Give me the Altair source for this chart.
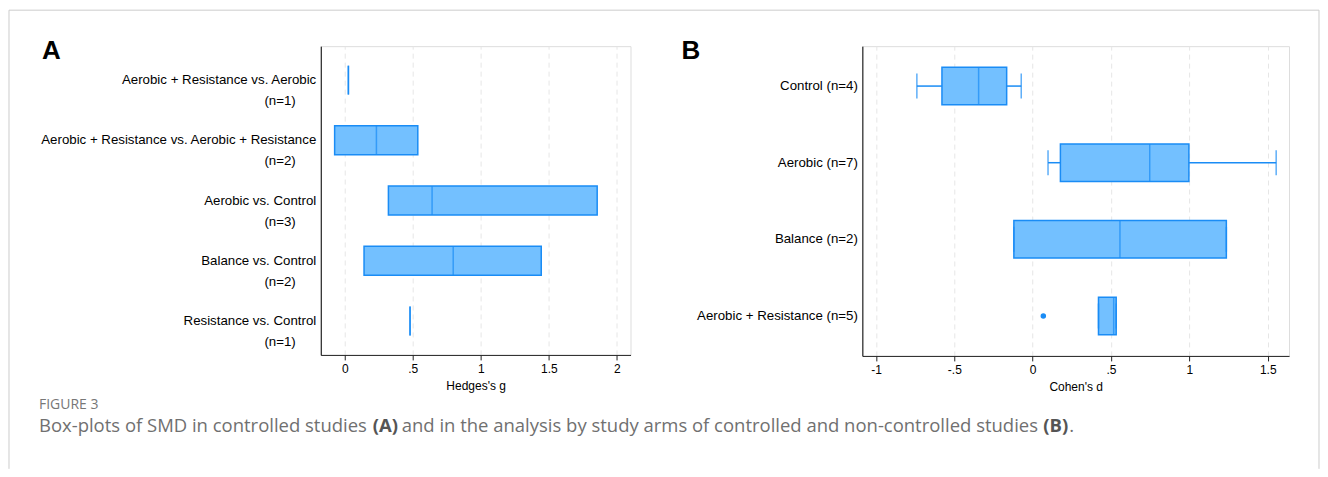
import altair as alt
import pandas as pd

# ---------------- Panel A: controlled studies (Hedges's g) ----------------
a_groups = [
    "Aerobic + Resistance vs. Aerobic",
    "Aerobic + Resistance vs. Aerobic + Resistance",
    "Aerobic vs. Control",
    "Balance vs. Control",
    "Resistance vs. Control",
]
a_n = [1, 2, 3, 2, 1]
a_q1 = [0.027, -0.074, 0.321, 0.142, 0.480]
a_med = [0.027, 0.233, 0.642, 0.797, 0.480]
a_q3 = [0.027, 0.537, 1.855, 1.444, 0.480]
a_ticks = [0, 0.5, 1, 1.5, 2]

# ---------------- Panel B: study arms (Cohen's d) ----------------
b_groups = ["Control", "Aerobic", "Balance", "Aerobic + Resistance"]
b_n = [4, 7, 2, 5]
b_wlo = [-0.739, 0.098, -0.120, 0.420]
b_q1 = [-0.579, 0.177, -0.120, 0.420]
b_med = [-0.345, 0.747, 0.557, 0.517]
b_q3 = [-0.166, 0.997, 1.236, 0.533]
b_whi = [-0.073, 1.554, 1.236, 0.533]
b_out_group = ["Aerobic + Resistance"]
b_out_val = [0.068]
b_ticks = [-1, -0.5, 0, 0.5, 1, 1.5]

FILL = "#73c0ff"
STROKE = "#1a8cf5"
FONT = "Liberation Sans"
CAP_FONT = "Open Sans"
LBL = 13.3

a_ntext = [f"(n={n})" for n in a_n]
b_labels = [f"{g} (n={n})" for g, n in zip(b_groups, b_n)]

dfA = pd.DataFrame({"grp": a_groups, "ntext": a_ntext, "q1": a_q1, "med": a_med, "q3": a_q3})
dfB = pd.DataFrame({"grp": b_labels, "wlo": b_wlo, "q1": b_q1, "med": b_med,
                    "q3": b_q3, "whi": b_whi})
out_labels = [b_labels[b_groups.index(g)] for g in b_out_group]
dfBo = pd.DataFrame({"grp": out_labels, "v": b_out_val})
one = pd.DataFrame({"k": [0]})

NUM_EXPR = ("(datum.value < 0 ? '-' : '') + (abs(datum.value) > 0 && abs(datum.value) < 1 ? "
            "substring(toString(abs(datum.value)), 1) : toString(abs(datum.value)))")


def xaxis(values, title):
    return alt.Axis(values=values, title=title, labelExpr=NUM_EXPR, grid=True,
                    gridDash=[5, 4], gridColor="#e6e6e6", gridWidth=1,
                    tickSize=5, tickColor="#222", labelPadding=4,
                    domainColor="#222", labelFontSize=12, labelColor="#000",
                    titleFontSize=12, titleFontWeight="normal", titleColor="#000",
                    titlePadding=6, labelFont=FONT, titleFont=FONT)


# ---------------- Panel A chart ----------------
xA = alt.X("q1:Q", scale=alt.Scale(domain=[-0.176, 2.10], nice=False, zero=False),
           axis=xaxis(a_ticks, "Hedges's g"))
yA = alt.Y("grp:N", sort=a_groups,
           scale=alt.Scale(paddingInner=0.519, paddingOuter=0.324),
           axis=alt.Axis(title=None, ticks=False, grid=False, domainColor="#000",
                         labelFontSize=LBL, labelColor="#000",
                         labelFont=FONT, labelPadding=5, labelLimit=400))
ysA = alt.Y("grp:N", sort=a_groups)

baseA = alt.Chart(dfA)
boxA = baseA.mark_bar(fill=FILL, stroke=STROKE, strokeWidth=1.5).encode(
    x=xA, x2="q3:Q", y=yA)
medA = baseA.mark_tick(color=STROKE, thickness=1.5, size=29).encode(
    x="med:Q", y=ysA)
nA = baseA.mark_text(font=FONT, fontSize=LBL, color="#000", align="right",
                     baseline="middle", dy=21).encode(
    x=alt.value(-25), y=ysA, text="ntext:N")

frame_col = "#cccccc"
frame_top = alt.Chart(one).mark_rule(color=frame_col, strokeWidth=1).encode(
    x=alt.value(-312), x2=alt.value(999), y=alt.value(-36))
frame_left = alt.Chart(one).mark_rule(color=frame_col, strokeWidth=1).encode(
    x=alt.value(-312), y=alt.value(-36), y2=alt.value(423))
frame_right = alt.Chart(one).mark_rule(color=frame_col, strokeWidth=1).encode(
    x=alt.value(999), y=alt.value(-36), y2=alt.value(423))

labA = alt.Chart(one).mark_text(text="A", font=FONT, fontSize=26, fontWeight="bold",
                                color="#000", align="left", baseline="middle").encode(
    x=alt.value(-279), y=alt.value(5))


def cap(text, x, y, size=18.5, weight="normal", color="#707070"):
    return alt.Chart(one).mark_text(text=text, font=CAP_FONT, fontSize=size,
                                    fontWeight=weight, color=color, align="left",
                                    baseline="middle").encode(
        x=alt.value(x), y=alt.value(y))


caption = [
    cap("FIGURE 3", -282, 359, size=14, color="#777777"),
    cap("Box-plots of SMD in controlled studies", -282, 380),
    cap("(A)", 52, 380, weight="bold", color="#555555"),
    cap("and in the analysis by study arms of controlled and non-controlled studies",
        81, 380),
    cap("(B)", 723, 380, weight="bold", color="#555555"),
    cap(".", 749, 380),
]

panelA = alt.layer(frame_top, frame_left, frame_right, boxA, medA, nA, labA,
                   *caption).properties(width=310, height=309)

# ---------------- Panel B chart ----------------
xB = alt.X("q1:Q", scale=alt.Scale(domain=[-1.087, 1.636], nice=False, zero=False),
           axis=xaxis(b_ticks, "Cohen's d"))
yB = alt.Y("grp:N", sort=b_labels,
           scale=alt.Scale(paddingInner=0.51, paddingOuter=0.276),
           axis=alt.Axis(title=None, ticks=False, grid=False, domainColor="#000",
                         labelFontSize=LBL, labelColor="#000", labelFont=FONT,
                         labelPadding=5, labelLimit=400))
ysB = alt.Y("grp:N", sort=b_labels)

baseB = alt.Chart(dfB)
whiskLo = baseB.mark_rule(color=STROKE, strokeWidth=1.5).encode(
    x="wlo:Q", x2="q1:Q", y=ysB)
whiskHi = baseB.mark_rule(color=STROKE, strokeWidth=1.5).encode(
    x="q3:Q", x2="whi:Q", y=ysB)
boxB = baseB.mark_bar(fill=FILL, stroke=STROKE, strokeWidth=1.5).encode(
    x=xB, x2="q3:Q", y=yB)
medB = baseB.mark_tick(color=STROKE, thickness=1.5, size=37.5).encode(
    x="med:Q", y=ysB)
capLo = baseB.mark_tick(color=STROKE, thickness=1.5, size=25).encode(
    x="wlo:Q", y=ysB)
capHi = baseB.mark_tick(color=STROKE, thickness=1.5, size=25).encode(
    x="whi:Q", y=ysB)
outB = alt.Chart(dfBo).mark_circle(color=STROKE, size=30, opacity=1).encode(
    x="v:Q", y=ysB)
labB = alt.Chart(one).mark_text(text="B", font=FONT, fontSize=26, fontWeight="bold",
                                color="#000", align="left", baseline="middle").encode(
    x=alt.value(-181), y=alt.value(5))

panelB = alt.layer(boxB, whiskLo, whiskHi, medB, capLo, capHi, outB,
                   labB).properties(width=427, height=310)

chart = alt.hconcat(panelA, panelB, spacing=232, bounds="flush").properties(
    padding={"left": 0, "top": 1, "right": 0, "bottom": 0}
).configure_view(stroke=None).configure(background="white")

chart.save("out.html", embed_options={"renderer": "svg", "actions": False})
